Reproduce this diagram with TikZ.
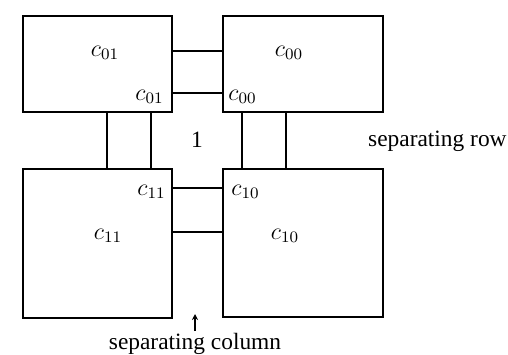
\documentclass[tikz,border=0pt]{standalone}
\usepackage{fontspec}
\setmainfont{Liberation Serif}
\usetikzlibrary{arrows.meta}
\begin{document}
\begin{tikzpicture}[x=0.5pt,y=-0.5pt,
  box/.style={draw,line width=0.8pt,inner sep=0pt,anchor=north west},
  wire/.style={line width=0.7pt},
  lbl/.style={inner sep=0pt,font=\fontsize{11.7}{14}\selectfont},
  txt/.style={inner sep=0pt,font=\fontsize{11.7}{14}\selectfont}]
\useasboundingbox (0,0) rectangle (508,354);
% boxes
\node[box,minimum width=74.5pt,minimum height=48pt] (b01) at (22,15) {};
\node[box,minimum width=80pt,minimum height=48pt] (b00) at (222,15) {};
\node[box,minimum width=74.5pt,minimum height=74.5pt] (b11) at (22,168) {};
\node[box,minimum width=80pt,minimum height=74pt] (b10) at (222,168) {};
% horizontal connectors
\draw[wire] (b01.east |- 0,51) -- (b00.west |- 0,51);
\draw[wire] (b01.east |- 0,93) -- (b00.west |- 0,93);
\draw[wire] (b11.east |- 0,188) -- (b10.west |- 0,188);
\draw[wire] (b11.east |- 0,232) -- (b10.west |- 0,232);
% vertical connectors
\draw[wire] (b01.south -| 107,0) -- (b11.north -| 107,0);
\draw[wire] (b01.south -| 151,0) -- (b11.north -| 151,0);
\draw[wire] (b00.south -| 242,0) -- (b10.north -| 242,0);
\draw[wire] (b00.south -| 286,0) -- (b10.north -| 286,0);
% labels
\node[lbl] (l01) at (105,53) {$c_{01}$};
\node[lbl,anchor=east] (l01c) at (164,97) {$c_{01}$};
\node[lbl,anchor=west] (l00c) at (228,97) {$c_{00}$};
\node[lbl] (l00) at (289,53) {$c_{00}$};
\node[lbl,anchor=east] (l11c) at (166,192) {$c_{11}$};
\node[lbl,anchor=west] (l10c) at (231,192) {$c_{10}$};
\node[lbl] (l11) at (108,236) {$c_{11}$};
\node[lbl] (l10) at (285,236) {$c_{10}$};
\node[txt] (one) at (197,140) {1};
\node[txt,anchor=east] (row) at (507,141) {separating row};
\node[txt] (col) at (195,344) {separating column};
\coordinate (abot) at (195,331);
\coordinate (atop) at (195,314);
\draw[line width=0.7pt,-{Stealth[length=3pt,width=3pt]}] (abot) -- (atop);
\end{tikzpicture}
\end{document}
